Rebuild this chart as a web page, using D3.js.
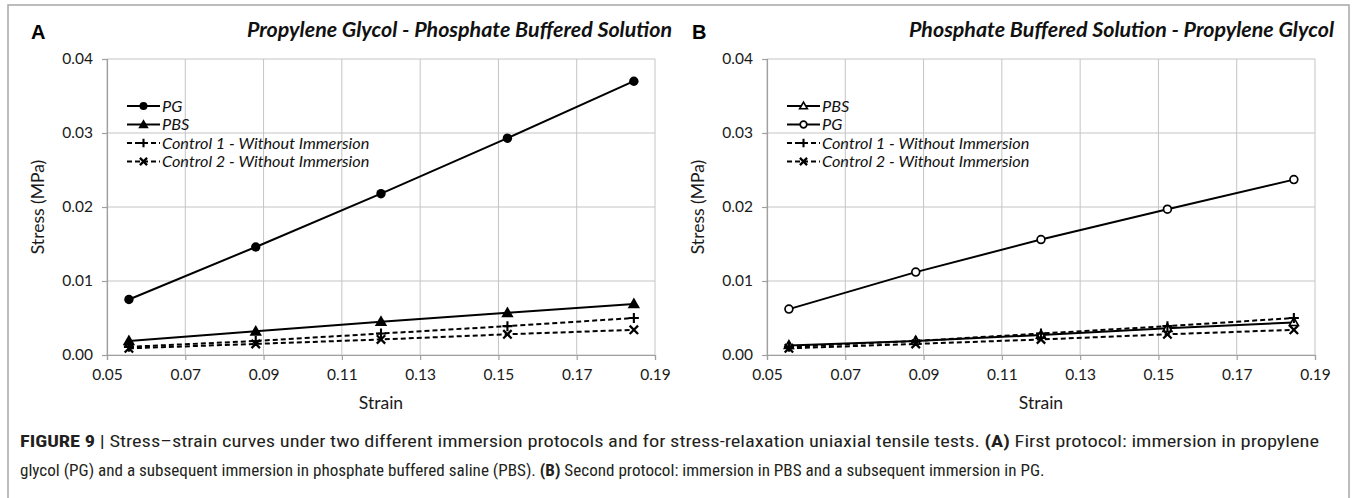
<!DOCTYPE html>
<html>
<head>
<meta charset="utf-8">
<script src="https://cdn.jsdelivr.net/npm/d3@7"></script>
<style>
  html, body { margin: 0; padding: 0; background: #fff; }
  svg { display: block; }
</style>
</head>
<body>
<svg id="fig" width="1355" height="498"></svg>
<script>
// ---------------- DATA ----------------
const strain = [0.0556, 0.088, 0.12, 0.1523, 0.1846];
const xTicks = [0.05, 0.07, 0.09, 0.11, 0.13, 0.15, 0.17, 0.19];
const yTicks = [0.00, 0.01, 0.02, 0.03, 0.04];

const panelA_PG  = [0.0075, 0.0146, 0.0218, 0.0293, 0.0370];
const panelA_PBS = [0.0019, 0.0032, 0.0045, 0.0057, 0.0069];
const panelB_PBS = [0.0013, 0.0019, 0.0027, 0.0036, 0.0044];
const panelB_PG  = [0.0062, 0.0112, 0.0156, 0.0197, 0.0237];
const control1   = [0.0011, 0.0019, 0.0029, 0.0039, 0.0050];
const control2   = [0.0009, 0.0015, 0.0021, 0.0028, 0.0034];

const seriesNamesA = ["PG", "PBS", "Control 1 - Without Immersion", "Control 2 - Without Immersion"];
const seriesNamesB = ["PBS", "PG", "Control 1 - Without Immersion", "Control 2 - Without Immersion"];
const titleA = "Propylene Glycol - Phosphate Buffered Solution";
const titleB = "Phosphate Buffered Solution - Propylene Glycol";
const xLabel = "Strain";
const yLabel = "Stress (MPa)";

// ---------------- DRAW ----------------
const svg = d3.select("#fig");
const FONT = "Lato, 'Open Sans', sans-serif";

// figure frame
svg.append("rect").attr("x", 8).attr("y", 5).attr("width", 1341).attr("height", 500)
  .attr("fill", "none").attr("stroke", "#a6a6a6").attr("stroke-width", 1.5);

function marker(g, type, x, y, s) {
  const k = s || 1;
  if (type === "dot") {
    g.append("circle").attr("cx", x).attr("cy", y).attr("r", 4.7 * k).attr("fill", "#000");
  } else if (type === "tri") {
    g.append("path").attr("transform", `translate(${x},${y + 0.8})`)
      .attr("d", d3.symbol(d3.symbolTriangle, 66 * k * k)()).attr("fill", "#000");
  } else if (type === "otri") {
    g.append("path").attr("transform", `translate(${x},${y + 0.5})`)
      .attr("d", d3.symbol(d3.symbolTriangle, 36 * k * k)()).attr("fill", "#fff")
      .attr("stroke", "#000").attr("stroke-width", 1.6);
  } else if (type === "ocirc") {
    g.append("circle").attr("cx", x).attr("cy", y).attr("r", 3.9 * k).attr("fill", "#fff")
      .attr("stroke", "#000").attr("stroke-width", 1.7);
  } else if (type === "plus") {
    const h = 5 * k;
    g.append("path").attr("d", `M${x - h},${y}H${x + h}M${x},${y - h}V${y + h}`)
      .attr("stroke", "#000").attr("stroke-width", 2.1);
  } else if (type === "cross") {
    const h = 4.2 * k;
    g.append("path").attr("d", `M${x - h},${y - h}L${x + h},${y + h}M${x - h},${y + h}L${x + h},${y - h}`)
      .attr("stroke", "#000").attr("stroke-width", 2.3);
  }
}

function panel(opt) {
  const x = d3.scaleLinear().domain([0.05, 0.19]).range([opt.left, opt.left + 548]);
  const y = d3.scaleLinear().domain([0, 0.04]).range([355, 59]);
  const g = svg.append("g");

  // grid
  g.append("g").selectAll("line").data(xTicks).join("line")
    .attr("x1", d => x(d)).attr("x2", d => x(d)).attr("y1", y(0)).attr("y2", y(0.04))
    .attr("stroke", "#c4c4c4").attr("stroke-width", 1);
  g.append("g").selectAll("line").data(yTicks).join("line")
    .attr("x1", x(0.05)).attr("x2", x(0.19)).attr("y1", d => y(d)).attr("y2", d => y(d))
    .attr("stroke", "#c4c4c4").attr("stroke-width", 1);

  // axes
  const ax = g.append("g").attr("transform", `translate(0,${y(0)})`)
    .call(d3.axisBottom(x).tickValues(xTicks).tickFormat(d3.format(".2f")).tickSizeOuter(0).tickSize(5).tickPadding(9));
  const ay = g.append("g").attr("transform", `translate(${x(0.05)},0)`)
    .call(d3.axisLeft(y).tickValues(yTicks).tickFormat(d3.format(".2f")).tickSizeOuter(0).tickSize(5).tickPadding(9));
  [ax, ay].forEach(a => {
    a.select(".domain").attr("stroke", "#a0a0a0").attr("stroke-width", 1.2);
    a.selectAll(".tick line").attr("stroke", "#a0a0a0").attr("stroke-width", 1.2);
    a.selectAll(".tick text").attr("fill", "#1a1a1a").style("font-family", FONT).style("font-size", "15.5px");
  });

  // axis titles
  g.append("text").attr("x", x(0.05) + 274).attr("y", 409).attr("text-anchor", "middle")
    .style("font-family", FONT).style("font-size", "17.5px").attr("fill", "#1a1a1a").text(xLabel);
  g.append("text").attr("transform", `translate(${opt.left - 63},207) rotate(-90)`).attr("text-anchor", "middle")
    .style("font-family", FONT).style("font-size", "17.5px").attr("fill", "#1a1a1a").text(yLabel);

  // panel letter and title
  g.append("text").attr("x", opt.letterX).attr("y", 39).text(opt.letter)
    .style("font-family", "'Liberation Sans', Arial, sans-serif").style("font-weight", "bold")
    .style("font-size", "20px").attr("fill", "#000");
  g.append("text").attr("x", opt.titleRight).attr("y", 37).attr("text-anchor", "end")
    .attr("textLength", 425).attr("lengthAdjust", "spacingAndGlyphs")
    .style("font-family", FONT).style("font-style", "italic").style("font-weight", "bold")
    .style("font-size", "20px").attr("fill", "#111").text(opt.title);

  // series
  const line = d3.line().x((d, i) => x(strain[i])).y(d => y(d));
  opt.series.forEach(s => {
    g.append("path").datum(s.values).attr("d", line).attr("fill", "none")
      .attr("stroke", "#000").attr("stroke-width", 2)
      .attr("stroke-dasharray", s.dash ? "5,3" : null);
  });
  opt.series.forEach(s => {
    s.values.forEach((v, i) => marker(g, s.marker, x(strain[i]), y(v)));
  });

  // legend
  const lx = x(0.05) + 20;
  opt.series.forEach((s, i) => {
    const ly = 106 + i * 18.5;
    g.append("line").attr("x1", lx).attr("x2", lx + 33).attr("y1", ly).attr("y2", ly)
      .attr("stroke", "#000").attr("stroke-width", 2).attr("stroke-dasharray", s.dash ? "5,3" : null);
    marker(g, s.marker, lx + 16.5, ly, 0.85);
    g.append("text").attr("x", lx + 35).attr("y", ly + 5.5)
      .style("font-family", FONT).style("font-style", "italic").style("font-size", "16.3px")
      .attr("fill", "#111").text(s.name);
  });
}

panel({
  left: 107, letter: "A", letterX: 31, titleRight: 672, title: titleA,
  series: [
    { name: seriesNamesA[0], values: panelA_PG, marker: "dot", dash: false },
    { name: seriesNamesA[1], values: panelA_PBS, marker: "tri", dash: false },
    { name: seriesNamesA[2], values: control1, marker: "plus", dash: true },
    { name: seriesNamesA[3], values: control2, marker: "cross", dash: true }
  ]
});
panel({
  left: 767, letter: "B", letterX: 692, titleRight: 1334, title: titleB,
  series: [
    { name: seriesNamesB[0], values: panelB_PBS, marker: "otri", dash: false },
    { name: seriesNamesB[1], values: panelB_PG, marker: "ocirc", dash: false },
    { name: seriesNamesB[2], values: control1, marker: "plus", dash: true },
    { name: seriesNamesB[3], values: control2, marker: "cross", dash: true }
  ]
});

// caption
const CAP = "'Liberation Sans Narrow', 'Arial Narrow', 'Roboto Condensed', 'Liberation Sans', Arial, sans-serif";
const cap = svg.append("g");
function capLine(parts) {
  const t = cap.append("text").attr("x", 0).attr("y", 0)
    .style("font-family", CAP).style("font-size", "17px").attr("fill", "#231f20");
  parts.forEach(p => t.append("tspan").style("font-weight", p[1] ? "bold" : "normal").text(p[0]));
  return t;
}
const l1 = capLine([["FIGURE 9", true], [" | Stress–strain curves under two different immersion protocols and for stress-relaxation uniaxial tensile tests. ", false], ["(A)", true], [" First protocol: immersion in propylene", false]]);
const l2 = capLine([["glycol (PG) and a subsequent immersion in phosphate buffered saline (PBS). ", false], ["(B)", true], [" Second protocol: immersion in PBS and a subsequent immersion in PG.", false]]);
const sx1 = 1300 / l1.node().getComputedTextLength();
const sx2 = 1025 / l2.node().getComputedTextLength();
l1.attr("transform", `translate(20,447) scale(${sx1},1)`);
l2.attr("transform", `translate(20,476) scale(${sx2},1)`);
</script>
</body>
</html>
